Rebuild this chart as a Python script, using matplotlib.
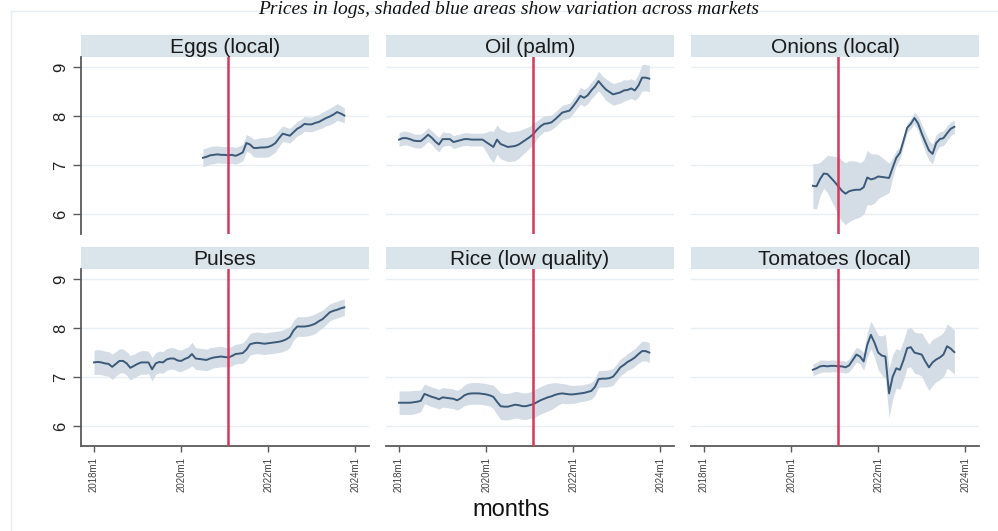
import numpy as np
import matplotlib
matplotlib.use('Agg')
import matplotlib.pyplot as plt
from matplotlib.patches import Rectangle

plt.rcParams['font.family'] = ['Liberation Sans', 'DejaVu Sans']

# months counted from 2018m1 (0) ; red line = 2021m2
titles = ['Eggs (local)', 'Oil (palm)', 'Onions (local)',
          'Pulses', 'Rice (low quality)', 'Tomatoes (local)']
tick_pos = [0, 24, 48, 72]
tick_labels = ['2018m1', '2020m1', '2022m1', '2024m1']
event_month = 37

eggs_start = 30
eggs = [7.15, 7.17, 7.20, 7.21, 7.22, 7.21, 7.21, 7.20, 7.21, 7.19, 7.22, 7.26, 7.45, 7.42, 7.35,
        7.35, 7.36, 7.36, 7.37, 7.40, 7.45, 7.55, 7.64, 7.62, 7.60, 7.67, 7.74, 7.78, 7.84, 7.83,
        7.83, 7.86, 7.88, 7.92, 7.96, 7.99, 8.03, 8.08, 8.05, 8.01]
eggs_sd = [0.18, 0.18, 0.18, 0.18, 0.17, 0.17, 0.17, 0.17, 0.17, 0.17, 0.17, 0.17, 0.17, 0.17, 0.18,
           0.19, 0.20, 0.20, 0.20, 0.19, 0.18, 0.17, 0.16, 0.15, 0.15, 0.15, 0.15, 0.15, 0.15, 0.15,
           0.15, 0.15, 0.15, 0.16, 0.16, 0.17, 0.17, 0.17, 0.16, 0.15]

oil_start = 0
oil = [7.52, 7.55, 7.55, 7.53, 7.50, 7.49, 7.49, 7.55, 7.62, 7.56, 7.48, 7.42, 7.53, 7.53, 7.53,
       7.47, 7.49, 7.51, 7.53, 7.53, 7.52, 7.52, 7.52, 7.52, 7.47, 7.42, 7.37, 7.52, 7.43, 7.40,
       7.37, 7.38, 7.39, 7.42, 7.47, 7.52, 7.57, 7.63, 7.72, 7.79, 7.84, 7.85, 7.87, 7.93, 8.00,
       8.07, 8.09, 8.11, 8.20, 8.30, 8.41, 8.37, 8.42, 8.52, 8.60, 8.71, 8.62, 8.54, 8.49, 8.44,
       8.46, 8.48, 8.52, 8.53, 8.56, 8.52, 8.62, 8.78, 8.78, 8.76]
oil_sd = [0.14, 0.14, 0.14, 0.14, 0.14, 0.14, 0.14, 0.14, 0.14, 0.14, 0.15, 0.15, 0.15, 0.13, 0.13,
          0.13, 0.13, 0.13, 0.13, 0.13, 0.13, 0.13, 0.13, 0.13, 0.20, 0.28, 0.32, 0.30, 0.30, 0.30,
          0.30, 0.30, 0.30, 0.28, 0.26, 0.24, 0.22, 0.22, 0.18, 0.17, 0.16, 0.16, 0.15, 0.15, 0.15,
          0.15, 0.15, 0.15, 0.15, 0.15, 0.17, 0.17, 0.17, 0.17, 0.17, 0.20, 0.20, 0.22, 0.22, 0.22,
          0.22, 0.22, 0.22, 0.20, 0.20, 0.20, 0.24, 0.27, 0.27, 0.27]

onions_start = 30
onions = [6.58, 6.57, 6.72, 6.83, 6.82, 6.74, 6.66, 6.57, 6.48, 6.42, 6.47, 6.49, 6.50, 6.50, 6.55,
          6.75, 6.71, 6.73, 6.77, 6.76, 6.75, 6.74, 6.95, 7.15, 7.25, 7.50, 7.76, 7.84, 7.96, 7.85,
          7.65, 7.47, 7.30, 7.23, 7.45, 7.53, 7.55, 7.65, 7.74, 7.78]
onions_sd = [0.46, 0.46, 0.34, 0.30, 0.38, 0.45, 0.52, 0.60, 0.62, 0.63, 0.62, 0.60, 0.58, 0.55, 0.55,
             0.55, 0.52, 0.50, 0.45, 0.40, 0.35, 0.30, 0.20, 0.15, 0.12, 0.10, 0.10, 0.10, 0.12, 0.15,
             0.18, 0.20, 0.20, 0.20, 0.17, 0.15, 0.15, 0.15, 0.14, 0.13]

pulses_start = 0
pulses = [7.30, 7.31, 7.30, 7.28, 7.27, 7.21, 7.27, 7.33, 7.33, 7.28, 7.19, 7.23, 7.27, 7.30, 7.30,
          7.30, 7.16, 7.28, 7.31, 7.30, 7.36, 7.38, 7.38, 7.34, 7.33, 7.37, 7.40, 7.47, 7.38, 7.37,
          7.36, 7.35, 7.38, 7.40, 7.41, 7.42, 7.41, 7.40, 7.43, 7.47, 7.48, 7.49, 7.56, 7.67, 7.69,
          7.70, 7.69, 7.68, 7.69, 7.70, 7.71, 7.72, 7.74, 7.77, 7.82, 7.95, 8.03, 8.03, 8.03, 8.04,
          8.06, 8.09, 8.14, 8.18, 8.25, 8.32, 8.35, 8.37, 8.40, 8.42]
pulses_sd = [0.25, 0.25, 0.25, 0.25, 0.25, 0.26, 0.25, 0.25, 0.24, 0.24, 0.25, 0.24, 0.24, 0.24, 0.24,
             0.23, 0.24, 0.22, 0.22, 0.22, 0.22, 0.22, 0.22, 0.22, 0.22, 0.22, 0.22, 0.24, 0.22, 0.22,
             0.22, 0.22, 0.22, 0.21, 0.21, 0.21, 0.20, 0.20, 0.20, 0.20, 0.20, 0.21, 0.22, 0.22, 0.22,
             0.22, 0.22, 0.22, 0.22, 0.22, 0.22, 0.22, 0.22, 0.22, 0.21, 0.20, 0.20, 0.20, 0.20, 0.20,
             0.20, 0.20, 0.19, 0.18, 0.18, 0.17, 0.17, 0.17, 0.17, 0.17]

rice_start = 0
rice = [6.48, 6.48, 6.48, 6.48, 6.49, 6.50, 6.52, 6.66, 6.63, 6.60, 6.58, 6.55, 6.59, 6.58, 6.57,
        6.56, 6.53, 6.57, 6.63, 6.66, 6.67, 6.67, 6.67, 6.66, 6.65, 6.63, 6.60, 6.50, 6.41, 6.40,
        6.40, 6.42, 6.44, 6.43, 6.41, 6.41, 6.43, 6.45, 6.49, 6.53, 6.56, 6.59, 6.61, 6.64, 6.66,
        6.67, 6.66, 6.65, 6.65, 6.66, 6.67, 6.68, 6.70, 6.72, 6.80, 6.96, 6.97, 6.97, 6.98, 7.01,
        7.10, 7.20, 7.25, 7.31, 7.35, 7.40, 7.47, 7.53, 7.53, 7.50]
rice_sd = [0.24, 0.24, 0.24, 0.24, 0.24, 0.23, 0.22, 0.20, 0.20, 0.20, 0.20, 0.20, 0.20, 0.20, 0.20,
           0.20, 0.20, 0.20, 0.21, 0.22, 0.22, 0.22, 0.22, 0.22, 0.22, 0.22, 0.24, 0.26, 0.27, 0.27,
           0.27, 0.27, 0.27, 0.27, 0.27, 0.27, 0.27, 0.28, 0.28, 0.28, 0.28, 0.28, 0.27, 0.25, 0.22,
           0.20, 0.20, 0.19, 0.18, 0.18, 0.17, 0.17, 0.17, 0.17, 0.17, 0.17, 0.17, 0.17, 0.17, 0.17,
           0.17, 0.17, 0.17, 0.17, 0.18, 0.18, 0.19, 0.20, 0.20, 0.20]

tomatoes_start = 30
tomatoes = [7.15, 7.18, 7.22, 7.23, 7.22, 7.23, 7.23, 7.22, 7.22, 7.20, 7.24, 7.35, 7.46, 7.42, 7.32,
            7.66, 7.86, 7.70, 7.50, 7.44, 7.42, 6.67, 7.01, 7.18, 7.15, 7.35, 7.59, 7.61, 7.50, 7.48,
            7.46, 7.32, 7.20, 7.30, 7.36, 7.40, 7.46, 7.63, 7.58, 7.51]
tomatoes_sd = [0.12, 0.12, 0.13, 0.12, 0.12, 0.12, 0.12, 0.12, 0.12, 0.12, 0.13, 0.15, 0.15, 0.15, 0.18,
               0.25, 0.28, 0.30, 0.35, 0.40, 0.45, 0.50, 0.45, 0.40, 0.40, 0.40, 0.40, 0.40, 0.42, 0.42,
               0.44, 0.46, 0.47, 0.47, 0.45, 0.45, 0.45, 0.45, 0.45, 0.45]

series = [(eggs_start, eggs, eggs_sd), (oil_start, oil, oil_sd), (onions_start, onions, onions_sd),
          (pulses_start, pulses, pulses_sd), (rice_start, rice, rice_sd),
          (tomatoes_start, tomatoes, tomatoes_sd)]

W, H = 998, 531
fig = plt.figure(figsize=(W / 100, H / 100), dpi=100)

# faint outer frame of the stata graph region
fig.patches.append(Rectangle((10.7 / W, -0.01), 1.0, 1 - 11 / H + 0.01, transform=fig.transFigure,
                             fill=False, edgecolor='#e4edf2', lw=1.0))

fig.text(0.51, 1 - 1 / H, 'Prices in logs, shaded blue areas show variation across markets',
         ha='center', va='top', fontsize=14, style='italic',
         family=['Liberation Serif', 'DejaVu Serif'], color='#111111')

col_left = [81, 386, 691]
col_w = 288
strip_top = [35, 247]
strip_h = 22
plot_h = 177

line_col = '#3b5a79'
band_col = '#d0dae4'
strip_col = '#d9e4eb'
red_col = '#d6385d'
grid_col = '#e8eef2'

for i, (title, (start, vals, sd)) in enumerate(zip(titles, series)):
    r, c = divmod(i, 3)
    l = col_left[c] / W
    w = col_w / W
    st = strip_top[r]
    sax = fig.add_axes([l, 1 - (st + strip_h) / H, w, strip_h / H])
    sax.set_facecolor(strip_col)
    for s in sax.spines.values():
        s.set_visible(False)
    sax.set_xticks([])
    sax.set_yticks([])
    sax.text(0.5, 0.45, title, ha='center', va='center', fontsize=15, color='#1a1a1a',
             transform=sax.transAxes)

    pt = st + strip_h
    ax = fig.add_axes([l, 1 - (pt + plot_h) / H, w, plot_h / H])
    x = np.arange(start, start + len(vals))
    v = np.array(vals)
    s_ = np.array(sd)
    ax.fill_between(x, v - s_, v + s_, color=band_col, alpha=0.9, lw=0, zorder=2)
    ax.plot(x, v, color=line_col, lw=1.4, zorder=3)
    ax.axvline(event_month, color=red_col, lw=1.8, zorder=4)

    ax.set_xlim(-3.6, 75.8)
    ax.set_ylim(5.6, 9.2)
    ax.set_yticks([6, 7, 8, 9])
    ax.grid(axis='y', color=grid_col, lw=1.0)
    ax.set_axisbelow(True)
    for s in ['top', 'right']:
        ax.spines[s].set_visible(False)
    ax.spines['left'].set_visible(c == 0)
    ax.spines['bottom'].set_visible(r == 1)
    for s in ['left', 'bottom']:
        ax.spines[s].set_color('#5a5a5a')
        ax.spines[s].set_linewidth(1.3)

    if c == 0:
        ax.tick_params(axis='y', length=6, width=1.0, color='#5a5a5a', labelsize=12,
                       labelcolor='#222222', pad=3)
        for lab in ax.get_yticklabels():
            lab.set_rotation(90)
            lab.set_va('center')
    else:
        ax.tick_params(axis='y', length=0, labelleft=False)

    ax.set_xticks(tick_pos)
    if r == 1:
        ax.set_xticklabels(tick_labels, rotation=90, fontsize=7, color='#444444')
        ax.tick_params(axis='x', length=4, width=1.0, color='#5a5a5a', pad=4)
    else:
        ax.tick_params(axis='x', length=0, labelbottom=False)

fig.text(0.512, 1 - 510 / H, 'months', ha='center', va='center', fontsize=17, color='#111111')

fig.savefig('out.png', dpi=100)
